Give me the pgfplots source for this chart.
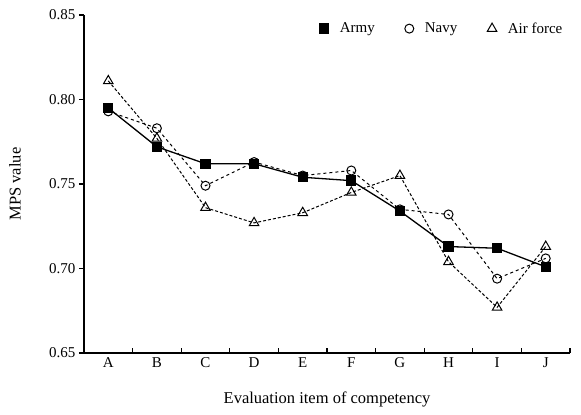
\documentclass[border=0pt]{standalone}
\usepackage{pgfplots}
\pgfplotsset{compat=1.18}
\usepackage{fontspec}
\setmainfont{Liberation Serif}
\begin{document}
\begin{tikzpicture}
\begin{axis}[
  scale only axis,
  width=486pt, height=338pt,
  xmin=-0.5, xmax=9.5, ymin=0.65, ymax=0.85,
  axis lines*=left,
  axis line style={line width=1.6pt},
  xtick={-0.5,0.5,...,9.5},
  x tick label as interval,
  xticklabels={A,B,C,D,E,F,G,H,I,J},
  xtick align=inside,
  ytick={0.65,0.70,0.75,0.80,0.85},
  ytick align=outside,
  major tick length=5pt,
  tick style={line width=1.2pt, black},
  yticklabel style={/pgf/number format/.cd,fixed,fixed zerofill,precision=2},
  /pgf/number format/assume math mode=true,
  tick label style={font=\fontsize{15}{17}\selectfont},
  xticklabel style={yshift=-1pt},
  ylabel={MPS value},
  xlabel={Evaluation item of competency},
  ylabel style={font=\fontsize{16.5}{18}\selectfont, at={(axis description cs:-0.142,0.5)}, rotate=0, anchor=center},
  xlabel style={font=\fontsize{16.5}{18}\selectfont, at={(axis description cs:0.5,-0.136)}, anchor=center},
  legend style={draw=none, fill=none, at={(axis description cs:0.995,0.99)}, anchor=north east,
    font=\fontsize{15}{17}\selectfont, column sep=9pt,
    /tikz/every even column/.append style={column sep=28pt}},
  legend columns=3,
  legend image code/.code={\draw[#1,solid] plot coordinates {(0.2cm,0cm)};},
]
\addplot[black, line width=1.3pt, mark=square*, mark size=4.5pt, mark options={solid, fill=black}]
  coordinates {(0,0.795) (1,0.772) (2,0.762) (3,0.762) (4,0.754) (5,0.752) (6,0.734) (7,0.713) (8,0.712) (9,0.701)};
\addlegendentry{Army}
\addplot[black, line width=1pt, dashed, mark=o, mark size=4.5pt, mark options={solid, fill=white}]
  coordinates {(0,0.793) (1,0.783) (2,0.749) (3,0.763) (4,0.755) (5,0.758) (6,0.735) (7,0.732) (8,0.694) (9,0.706)};
\addlegendentry{Navy}
\addplot[black, line width=1pt, densely dashed, mark=triangle, mark size=5.5pt, mark options={solid, fill=white}]
  coordinates {(0,0.811) (1,0.777) (2,0.736) (3,0.727) (4,0.733) (5,0.745) (6,0.755) (7,0.704) (8,0.677) (9,0.713)};
\addlegendentry{Air force}
\coordinate (bl) at (rel axis cs:-0.1728,-0.1805);
\coordinate (tr) at (rel axis cs:1.0226,1.0444);
\end{axis}
\path (bl) rectangle (tr);
\end{tikzpicture}
\end{document}
